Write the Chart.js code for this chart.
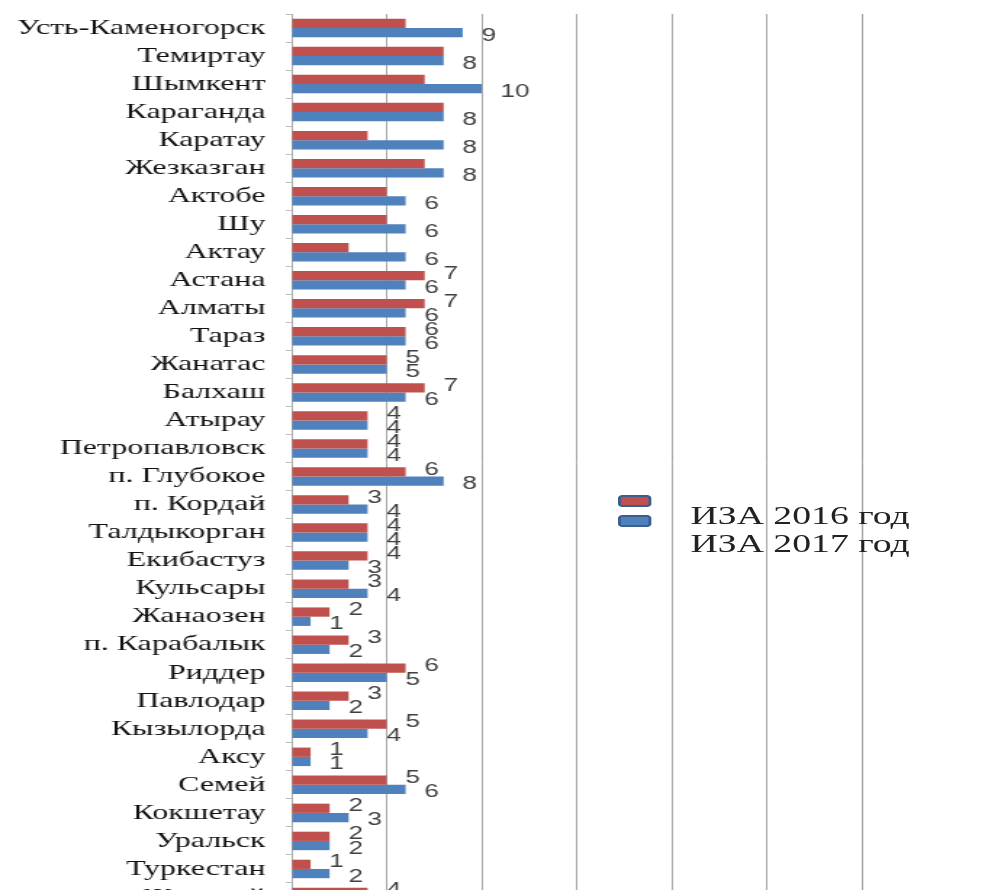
<!DOCTYPE html>
<html>
<head>
<meta charset="utf-8">
<script src="https://cdn.jsdelivr.net/npm/chart.js@4.4.1/dist/chart.umd.min.js"></script>
<style>
  html, body { margin: 0; padding: 0; background: #fff; overflow: hidden; width: 1001px; height: 890px; }
  /* the original picture is stretched sideways, so the whole chart is too */
  #wrap { position: absolute; left: 0; top: 0; width: 690px; height: 960px; transform: scaleX(1.4507); transform-origin: 0 0; }
  #chart { display: block; }
  .sw { position: absolute; left: 426px; width: 19px; height: 8px; border: 2px solid #3a5f8e; border-radius: 3px; }
  .lg { position: absolute; left: 476px; font-family: 'Liberation Serif', serif; font-size: 26px; color: #222; line-height: 28px; white-space: nowrap; }
</style>
</head>
<body>
<div id="wrap">
  <canvas id="chart" width="690" height="960" style="width:690px;height:960px"></canvas>
  <div class="sw" style="top:495px;background:#c0504d"></div>
  <div class="sw" style="top:515px;background:#4f81bd"></div>
  <div class="lg" style="top:502px">ИЗА 2016 год<br>ИЗА 2017 год</div>
</div>
<script>
const cities = ['Усть-Каменогорск', 'Темиртау', 'Шымкент', 'Караганда', 'Каратау', 'Жезказган',
  'Актобе', 'Шу', 'Актау', 'Астана', 'Алматы', 'Тараз', 'Жанатас', 'Балхаш', 'Атырау',
  'Петропавловск', 'п. Глубокое', 'п. Кордай', 'Талдыкорган', 'Екибастуз', 'Кульсары',
  'Жанаозен', 'п. Карабалык', 'Риддер', 'Павлодар', 'Кызылорда', 'Аксу', 'Семей',
  'Кокшетау', 'Уральск', 'Туркестан', 'Жетысай'];
const iza2016 = [6, 8, 7, 8, 4, 7, 5, 5, 3, 7, 7, 6, 5, 7, 4, 4, 6, 3, 4, 4, 3, 2, 3, 6, 3, 5, 1, 5, 2, 2, 1, 4];
const iza2017 = [9, 8, 10, 8, 8, 8, 6, 6, 6, 6, 6, 6, 5, 6, 4, 4, 8, 4, 4, 3, 4, 1, 2, 5, 2, 4, 1, 6, 3, 2, 2, 4];
const xTicks = [0, 5, 10, 15, 20, 25, 30];

// value labels next to bar ends (red labels are hidden in the first rows of the original)
const valueLabels = {
  id: 'valueLabels',
  afterDatasetsDraw(chart) {
    const ctx = chart.ctx;
    ctx.save();
    ctx.font = '18px "Liberation Sans", sans-serif';
    ctx.fillStyle = '#404040';
    ctx.textAlign = 'left';
    ctx.textBaseline = 'middle';
    chart.data.datasets.forEach((ds, di) => {
      chart.getDatasetMeta(di).data.forEach((bar, i) => {
        if (di === 0 && i < 9) return;
        const dy = di === 0 ? -2 : 3;
        ctx.fillText(ds.data[i], bar.x + 13, bar.y + dy);
      });
    });
    ctx.restore();
  }
};

new Chart(document.getElementById('chart'), {
  type: 'bar',
  data: {
    labels: cities,
    datasets: [
      { label: 'ИЗА 2016 год', data: iza2016, backgroundColor: '#c0504d' },
      { label: 'ИЗА 2017 год', data: iza2017, backgroundColor: '#4f81bd' }
    ]
  },
  options: {
    indexAxis: 'y',
    responsive: false,
    animation: false,
    datasets: { bar: { categoryPercentage: 0.66, barPercentage: 1 } },
    layout: { padding: { top: 14, right: 96, left: 0, bottom: 0 } },
    plugins: { legend: { display: false }, tooltip: { enabled: false } },
    scales: {
      x: {
        min: 0, max: 30,
        afterBuildTicks: s => { s.ticks = xTicks.map(v => ({ value: v })); },
        afterFit: s => { s.height = 49; s.paddingLeft = 0; s.paddingRight = 0; },
        grid: { color: '#a6a6a6', lineWidth: 1, drawTicks: false },
        border: { display: false },
        ticks: { color: '#404040', font: { family: 'Liberation Sans', size: 16 } }
      },
      y: {
        afterFit: s => { s.width = 201; s.paddingTop = 0; s.paddingBottom = 0; },
        grid: { drawOnChartArea: false, drawTicks: true, tickLength: 4, color: '#bfbfbf' },
        border: { display: true, color: '#a6a6a6' },
        ticks: { color: '#111', padding: 14, autoSkip: false, font: { family: 'Liberation Serif', size: 22 } }
      }
    }
  },
  plugins: [valueLabels]
});
</script>
</body>
</html>
